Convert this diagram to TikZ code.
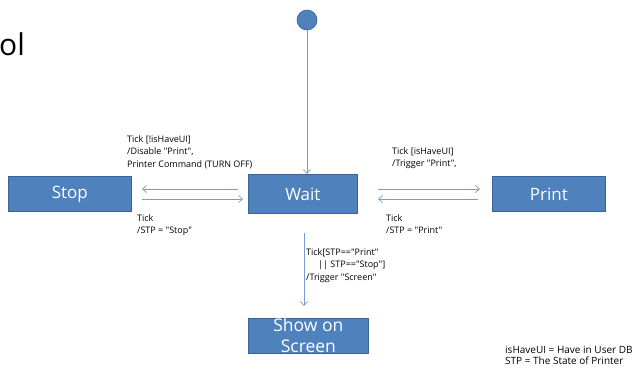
\documentclass[tikz,border=0pt]{standalone}
\usepackage{fontspec}
\setmainfont{Open Sans}[Ligatures=TeXOff]
\usetikzlibrary{arrows.meta}
\definecolor{boxfill}{HTML}{4F81BD}
\definecolor{boxline}{HTML}{3A6496}
\definecolor{arrowblue}{HTML}{7A9CC8}
\begin{document}
\begin{tikzpicture}[x=1pt,y=-1pt,
  state/.style={draw=boxline,line width=0.8pt,fill=boxfill,inner sep=0pt,anchor=north west},
  statetext/.style={text=white,align=center,font=\fontsize{17}{21}\selectfont},
  trans/.style={draw=arrowblue,line width=0.7pt,-{Straight Barb[length=4pt,width=7pt]}},
  lbl/.style={font=\fontsize{9}{12.5}\selectfont,align=left,inner sep=0pt,anchor=north west},
  legend/.style={font=\fontsize{10}{11}\selectfont,align=left,inner sep=0pt,anchor=north west}]
\useasboundingbox (0,0) rectangle (638,373);
\fill[white] (0,0) rectangle (638,373);

% title fragment at the top left
\node[inner sep=0pt,anchor=base west,font=\fontsize{30}{30}\selectfont] (title) at (-1,55) {ol};

% initial state
\node[circle,draw=boxline,fill=boxfill,line width=0.6pt,minimum size=20pt,inner sep=0pt] (init) at (307,20) {};

% states
\node[state,minimum width=123pt,minimum height=35pt] (stop) at (8,176) {};
\node[statetext] (stopt) at (stop.center) {Stop};
\node[state,minimum width=109pt,minimum height=39pt] (wait) at (248,174) {};
\node[statetext] (waitt) at (wait.center) {Wait};
\node[state,minimum width=113pt,minimum height=35pt] (print) at (492,176) {};
\node[statetext] (printt) at (print.center) {Print};
\node[state,minimum width=120pt,minimum height=35pt] (screen) at (248,318) {};
\node[statetext,font=\fontsize{17.5}{21}\selectfont] (screent) at (screen.center) {Show on\\Screen};

% connector end points
\coordinate (w2s) at (238,189);
\coordinate (s2w) at (142,189);
\coordinate (sw) at (142,199);
\coordinate (swe) at (243,199);
\coordinate (wp) at (378,189);
\coordinate (wpe) at (480,189);
\coordinate (pw) at (478,199);
\coordinate (pwe) at (378,199);
\coordinate (wsc) at (304,233);
\coordinate (wsce) at (304,306);

% transitions
\draw[trans] (init.south) -- (init.south |- wait.north);
\draw[trans] (w2s) -- (s2w);
\draw[trans] (sw) -- (swe);
\draw[trans] (wp) -- (wpe);
\draw[trans] (pw) -- (pwe);
\draw[trans] (wsc) -- (wsce);

% transition labels
\node[lbl] (l1) at (127,135) {Tick [!isHaveUI]\\/Disable "Print",\\Printer Command (TURN OFF)};
\node[lbl] (l2) at (137,214) {Tick\\/STP = "Stop"};
\node[lbl] (l3) at (392,147) {Tick [isHaveUI]\\/Trigger "Print",};
\node[lbl] (l4) at (386,214) {Tick\\/STP = "Print"};
\node[lbl] (l5) at (306,248) {Tick[STP=="Print"\\\hspace*{12pt}|| STP=="Stop"]\\/Trigger "Screen"};

% legend
\node[legend] (leg) at (505,346) {isHaveUI = Have in User DB\\STP = The State of Printer};
\end{tikzpicture}
\end{document}
